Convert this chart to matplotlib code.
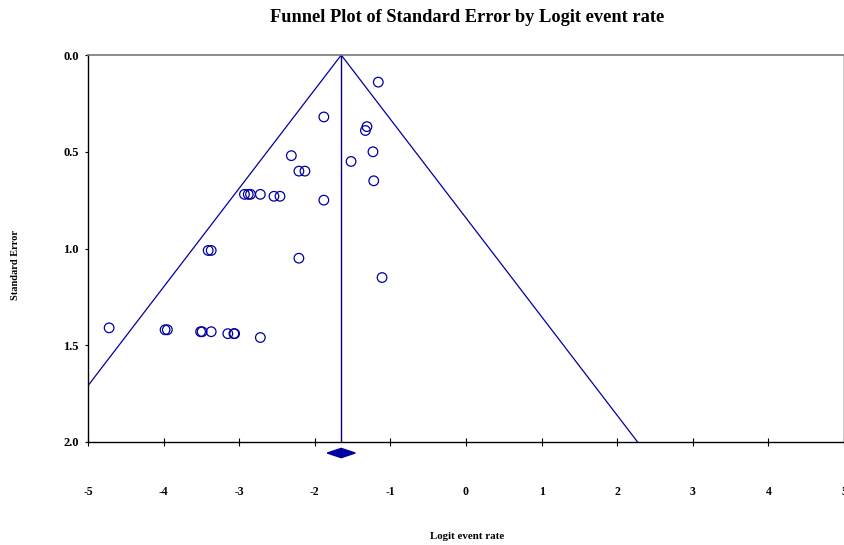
import matplotlib
matplotlib.use("Agg")
import matplotlib.pyplot as plt
import numpy as np

# Data (logit event rate, standard error)
logit = [-1.16, -1.88, -1.31, -1.33, -1.23, -2.31, -1.52, -2.21, -2.13, -1.22,
         -2.93, -2.88, -2.85, -2.72, -2.54, -2.46, -1.88,
         -3.41, -3.37, -2.21, -1.11,
         -4.72, -3.98, -3.95, -3.51, -3.49, -3.37, -3.15, -3.07, -3.06, -2.72]
se = [0.14, 0.32, 0.37, 0.39, 0.50, 0.52, 0.55, 0.60, 0.60, 0.65,
      0.72, 0.72, 0.72, 0.72, 0.73, 0.73, 0.75,
      1.01, 1.01, 1.05, 1.15,
      1.41, 1.42, 1.42, 1.43, 1.43, 1.43, 1.44, 1.44, 1.44, 1.46]
pooled = -1.65
xticks = [-5, -4, -3, -2, -1, 0, 1, 2, 3, 4, 5]
yticks = [0.0, 0.5, 1.0, 1.5, 2.0]

plt.rcParams['font.family'] = ['Liberation Serif', 'DejaVu Serif']
fig = plt.figure(figsize=(8.45, 5.45), dpi=100)
ax = fig.add_axes([0.1041, 0.189, 0.8947, 0.710])

blue = '#0000A0'
# funnel lines
se_line = np.array([0.0, 2.2])
ax.plot(pooled - 1.96 * se_line, se_line, color=blue, lw=0.9)
ax.plot(pooled + 1.96 * se_line, se_line, color=blue, lw=0.9)
ax.plot([pooled, pooled], [0, 2.0], color='#000080', lw=1.0)

ax.scatter(logit, se, s=48, facecolors='none', edgecolors=blue, linewidths=0.9, zorder=3)

# pooled diamond below axis
dw, dh, dy = 0.185, 0.024, 2.057
ax.fill([pooled - dw, pooled, pooled + dw, pooled], [dy, dy - dh, dy, dy + dh],
        color=blue, clip_on=False, zorder=4)

ax.set_xlim(-5, 5)
ax.set_ylim(2.0, 0.0)
ax.set_xticks(xticks)
ax.set_yticks(yticks)
ax.set_xticklabels([str(t) for t in xticks], fontsize=8.5, fontweight='bold')
ax.set_yticklabels([f"{t:.1f}" for t in yticks], fontsize=9, fontweight='bold')
ax.tick_params(axis='x', direction='inout', length=6, width=0.8, pad=29)
ax.tick_params(axis='y', direction='out', length=2.5, width=0.8, pad=4)

for s in ['left', 'bottom', 'right']:
    ax.spines[s].set_color('black')
    ax.spines[s].set_linewidth(1.0)
ax.spines['top'].set_color('#777777')
ax.spines['top'].set_linewidth(1.2)

fig.text(0.553, 0.968, "Funnel Plot of Standard Error by Logit event rate",
         ha='center', va='center', fontsize=13.2, fontweight='bold')
fig.text(0.553, 0.016, "Logit event rate", ha='center', va='center',
         fontsize=7.8, fontweight='bold')
fig.text(0.018, 0.514, "Standard Error", ha='center', va='center',
         rotation=90, fontsize=7.5, fontweight='bold')

fig.savefig("out.png", dpi=100)
